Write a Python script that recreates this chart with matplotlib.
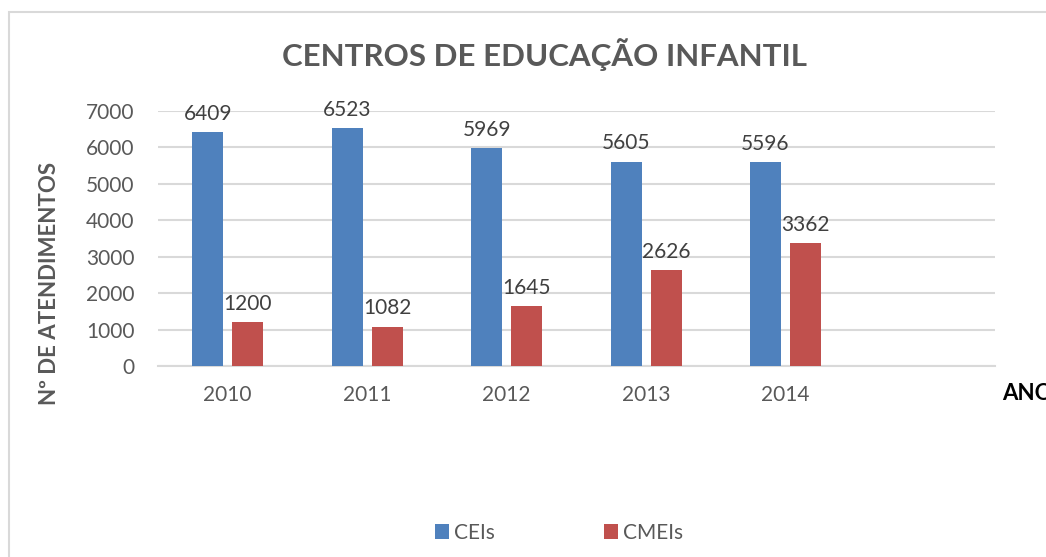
import matplotlib.pyplot as plt
import numpy as np
from matplotlib.patches import Rectangle

plt.rcParams['font.family'] = ['Lato', 'DejaVu Sans']

# Data
anos = ['2010', '2011', '2012', '2013', '2014', '']
ceis = [6409, 6523, 5969, 5605, 5596]
cmeis = [1200, 1082, 1645, 2626, 3362]

blue = '#4F81BD'
red = '#C0504D'
grid_c = '#D9D9D9'
txt_c = '#595959'

fig = plt.figure(figsize=(10.46, 5.57), dpi=100)
ax = fig.add_axes([0.151, 0.343, 0.800, 0.458])

x = np.arange(len(anos))
n = len(ceis)
w = 0.222
gap = 0.065
b1 = ax.bar(x[:n] - (w + gap) / 2, ceis, width=w, color=blue, zorder=3)
b2 = ax.bar(x[:n] + (w + gap) / 2, cmeis, width=w, color=red, zorder=3)

for bars, vals in ((b1, ceis), (b2, cmeis)):
    for rect, v in zip(bars, vals):
        ax.annotate(str(v), (rect.get_x() + rect.get_width() / 2, v),
                    xytext=(0, 6), textcoords='offset points',
                    ha='center', va='bottom', fontsize=15, color='#404040')

ax.set_xlim(-0.5, len(anos) - 0.5)
ax.set_ylim(0, 7000)
ax.set_yticks(range(0, 7001, 1000))
ax.set_xticks(x[:n])
ax.set_xticklabels(anos[:n])
ax.tick_params(axis='both', length=0, labelsize=15, labelcolor=txt_c)
ax.tick_params(axis='x', pad=14)
ax.tick_params(axis='y', pad=17)
ax.grid(axis='y', color=grid_c, linewidth=1.5, zorder=0)
for s in ['top', 'right', 'left']:
    ax.spines[s].set_visible(False)
ax.spines['bottom'].set_color(grid_c)
ax.spines['bottom'].set_linewidth(1.5)

fig.text(545 / 1046, 1 - 55 / 557, 'CENTROS DE EDUCAÇÃO INFANTIL', ha='center', va='center',
         fontsize=22.5, fontweight='bold', color=txt_c)
fig.text(50 / 1046, 1 - 283 / 557, 'Nº DE ATENDIMENTOS', rotation=90, ha='center', va='center',
         fontsize=16, fontweight='bold', color=txt_c)
fig.text(1002 / 1046, 1 - 393 / 557, 'ANO', ha='left', va='center',
         fontsize=16, fontweight='bold', color='black')

leg = fig.legend([b1, b2], ['CEIs', 'CMEIs'], loc='center', ncol=2,
                 bbox_to_anchor=(559 / 1046, 1 - 533 / 557), frameon=False,
                 fontsize=15, handlelength=0.7, handleheight=0.7, handletextpad=0.25,
                 columnspacing=5.2)
for t in leg.get_texts():
    t.set_color(txt_c)

fig.patches.append(Rectangle((9 / 1046, -0.1), 1.2, 1 - 12 / 557 + 0.1, transform=fig.transFigure,
                             fill=False, edgecolor=grid_c, linewidth=1.5))

fig.savefig('out.png', dpi=100)
